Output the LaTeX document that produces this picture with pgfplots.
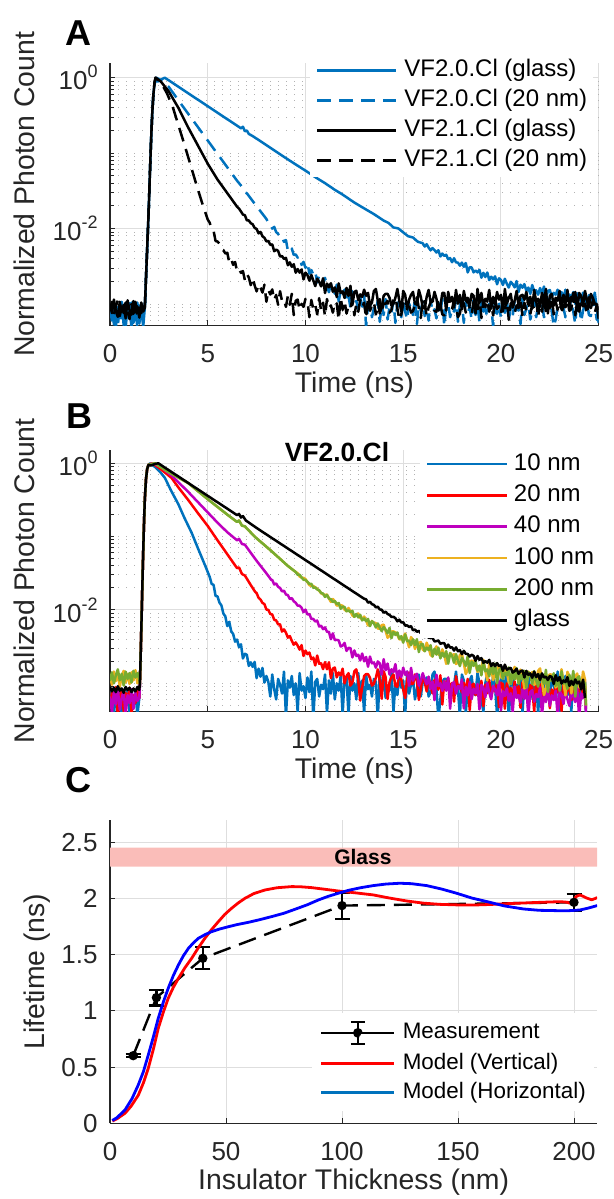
\documentclass[border=0pt]{standalone}
\usepackage{fontspec}
\setmainfont{Liberation Sans}
\usepackage{pgfplots}
\pgfplotsset{compat=1.18}

\definecolor{mblue}{RGB}{0,114,189}
\definecolor{morange}{RGB}{237,177,32}
\definecolor{mgreen}{RGB}{119,172,48}
\definecolor{mmag}{RGB}{190,0,190}
\definecolor{axgray}{RGB}{38,38,38}
\definecolor{gridgray}{RGB}{222,222,222}
\definecolor{minorgray}{RGB}{178,178,178}
\definecolor{glasspink}{RGB}{250,189,185}

\pgfplotsset{
  matstyle/.style={
    scale only axis,
    anchor=south west,
    axis lines*=left,
    axis line style={draw=axgray, line width=0.7pt},
    tick align=inside,
    major tick length=2.6pt,
    minor tick length=2pt,
    tick style={draw=axgray, line width=0.5pt},
    xmajorgrids=true, ymajorgrids=true,
    major grid style={draw=gridgray, line width=0.5pt},
    tick label style={font=\fontsize{13}{13}\selectfont, text=axgray},
    xticklabel style={anchor=center, yshift=-14pt, inner sep=0pt},
    yticklabel style={anchor=east, xshift=-6pt, inner sep=0pt},
    label style={font=\fontsize{14.2}{14.2}\selectfont, text=axgray},
    /pgf/number format/assume math mode=true,
    legend cell align=left,
  },
  logstyle/.style={
    yminorgrids=true,
    minor grid style={draw=minorgray, line width=0.5pt, dash pattern=on 0.6pt off 3.4pt},
    ytick={-2,0},
    yticklabels={10\raisebox{6pt}{\fontsize{9}{9}\selectfont -2},10\raisebox{6pt}{\fontsize{9}{9}\selectfont 0}},
    minor ytick={-3.301,-3.2218,-3.1549,-3.0969,-3.0458,-3,-2.699,-2.5229,-2.3979,-2.301,-2.2218,-2.1549,-2.0969,-2.0458,-1.699,-1.5229,-1.3979,-1.301,-1.2218,-1.1549,-1.0969,-1.0458,-1,-0.699,-0.5229,-0.3979,-0.301,-0.2218,-0.1549,-0.0969,-0.0458},
    xmin=0, xmax=25, xtick={0,5,...,25},
    xlabel={Time (ns)},
    ylabel={Normalized Photon Count},
  },
  curve/.style={line width=1.25pt, line join=round},
}

\begin{document}
\begin{tikzpicture}
\useasboundingbox (0,0) rectangle (307pt,599.5pt);

% ---------------- Panel A ----------------
\begin{axis}[matstyle, logstyle,
  at={(55pt,436.65pt)}, width=244.35pt, height=131.35pt,
  ymin=-3.287, ymax=0.195,
  xlabel style={at={(axis description cs:0.5,-0.2246)}, anchor=center},
  ylabel style={at={(axis description cs:-0.175,0.5)}, anchor=center},
  legend style={at={(0.4092,1.0365)}, anchor=north west, draw=none, fill=white,
    inner sep=3pt, outer sep=0pt, row sep=4pt, column sep=3.5pt,
    font=\fontsize{12}{12}\selectfont,
    nodes={inner sep=0pt, text height=8.6pt, text depth=2.4pt, text=black}},
  legend image code/.code={\draw[#1] (0pt,0pt) -- (39.5pt,0pt);},
]
\addplot[mblue, curve] coordinates {
(0,-3.05) (0.1,-3.22) (0.2,-2.98) (0.3,-3.31) (0.4,-3.04) (0.5,-3.19) (0.6,-2.97) (0.7,-3.28) (0.8,-3.08) (0.9,-3.15) (1,-2.99) (1.1,-3.33) (1.2,-3.03) (1.3,-3.2) (1.4,-2.98) (1.5,-3.26) (1.6,-3.06) (1.7,-3.3) (1.78,-3.05) (1.85,-2.6) (1.92,-2.15) (1.98,-1.75) (2.04,-1.28) (2.1,-0.84) (2.16,-0.48) (2.22,-0.22) (2.28,-0.08) (2.35,-0.04) (2.45,-0.05) (2.55,-0.04) (2.65,-0.02) (2.8,0) (3,-0.034) (3.5,-0.12) (4,-0.206) (4.5,-0.292) (5,-0.378) (5.5,-0.464) (6,-0.55) (6.5,-0.636) (6.7,-0.671) (6.8,-0.65) (6.9,-0.71) (7,-0.7) (7.1,-0.745) (7.3,-0.774) (7.5,-0.808) (8,-0.894) (8.5,-0.98) (9,-1.066) (9.5,-1.15) (10,-1.232) (10.5,-1.318) (11,-1.398) (11.5,-1.486) (11.8,-1.533) (12,-1.567) (12.5,-1.655) (13,-1.732) (13.5,-1.808) (14,-1.894) (14.25,-1.925) (14.5,-1.985) (14.75,-1.998) (15,-2.05) (15.25,-2.101) (15.5,-2.118) (15.75,-2.175)
(16,-2.194) (16.1,-2.238) (16.2,-2.207) (16.3,-2.252) (16.4,-2.287) (16.5,-2.259) (16.6,-2.285) (16.7,-2.317) (16.8,-2.287) (16.9,-2.37) (17,-2.331) (17.1,-2.362) (17.2,-2.347) (17.3,-2.406) (17.4,-2.391) (17.5,-2.446) (17.6,-2.393) (17.7,-2.448) (17.8,-2.451) (17.9,-2.492) (18,-2.45) (18.1,-2.507) (18.2,-2.456) (18.3,-2.581) (18.4,-2.512) (18.5,-2.515) (18.6,-2.58) (18.7,-2.556) (18.8,-2.581) (18.9,-2.548) (19,-2.651) (19.1,-2.586) (19.2,-2.642) (19.3,-2.582) (19.4,-2.682) (19.5,-2.638) (19.6,-2.673) (19.7,-2.633) (19.8,-2.738) (19.9,-2.659) (20,-2.681) (20.1,-2.748) (20.2,-2.665) (20.3,-2.732) (20.4,-2.781) (20.5,-2.705) (20.6,-2.736) (20.7,-2.779) (20.8,-2.696) (20.9,-2.841) (21,-2.744) (21.1,-2.783) (21.2,-2.737) (21.3,-2.827) (21.4,-2.781) (21.5,-2.865) (21.6,-2.748) (21.7,-2.832) (21.8,-2.818) (21.9,-2.876) (22,-2.788) (22.1,-2.862) (22.2,-2.768) (22.3,-2.947) (22.4,-2.825) (22.5,-2.815) (22.6,-2.903) (22.7,-2.851) (22.8,-2.876) (22.9,-2.81) (23,-2.958) (23.1,-2.842) (23.2,-2.918) (23.3,-2.81) (23.4,-2.958) (23.5,-2.874) (23.6,-2.918) (23.7,-2.842) (23.8,-2.998) (23.9,-2.858) (24,-2.885) (24.1,-2.973) (24.2,-2.848) (24.3,-2.936) (24.4,-2.999) (24.5,-2.882) (24.6,-2.919) (24.7,-2.974) (24.8,-2.849) (24.9,-3.05) (25,-3.25)};
\addplot[mblue, curve, dash pattern=on 7pt off 4pt] coordinates {
(0,-3.18) (0.1,-3.02) (0.2,-3.27) (0.3,-3.08) (0.4,-3.3) (0.5,-2.99) (0.6,-3.21) (0.7,-3.06) (0.8,-3.32) (0.9,-3.03) (1,-3.17) (1.1,-2.98) (1.2,-3.25) (1.3,-3.07) (1.4,-3.31) (1.5,-3.02) (1.6,-3.19) (1.7,-3.08) (1.78,-3.1) (1.85,-2.6) (1.92,-2.15) (1.98,-1.75) (2.04,-1.28) (2.1,-0.84) (2.16,-0.48) (2.22,-0.22) (2.28,-0.07) (2.36,0) (2.6,-0.03) (3,-0.12) (3.5,-0.3) (4,-0.478) (4.5,-0.655) (5,-0.833) (5.5,-1.01) (6,-1.188) (6.5,-1.366) (6.8,-1.46) (6.9,-1.52) (7,-1.532) (7.5,-1.704) (8,-1.872)
(8.1,-1.923) (8.2,-1.932) (8.3,-2.001) (8.4,-1.977) (8.5,-2.046) (8.6,-2.069) (8.7,-2.125) (8.8,-2.115) (8.9,-2.176) (9,-2.151) (9.1,-2.294) (9.2,-2.243) (9.3,-2.265) (9.4,-2.349) (9.5,-2.343) (9.6,-2.384) (9.7,-2.367) (9.8,-2.481) (9.9,-2.441) (10,-2.52) (10.1,-2.454) (10.2,-2.597) (10.3,-2.55) (10.4,-2.609) (10.5,-2.569) (10.6,-2.714) (10.7,-2.619) (10.8,-2.661) (10.9,-2.748) (11,-2.652) (11.1,-2.761) (11.2,-2.843) (11.3,-2.735) (11.4,-2.79) (11.5,-2.863) (11.6,-2.743) (11.7,-2.965) (11.8,-2.827) (11.9,-2.887) (12,-2.809) (12.1,-2.977) (12.2,-2.893) (12.3,-3.048) (12.4,-2.832) (12.5,-2.988) (12.6,-2.961) (12.7,-3.065) (12.8,-2.906) (12.9,-3.034) (13,-2.875)
(13.1,-3.295) (13.2,-3.025) (13.3,-2.995) (13.4,-3.175) (13.5,-3.055) (13.6,-3.1) (13.7,-2.95) (13.8,-3.235) (13.9,-3.01) (14,-3.145) (14.1,-2.935) (14.2,-3.205) (14.3,-3.04) (14.4,-3.115) (14.5,-2.965) (14.6,-3.25) (14.7,-2.98) (14.8,-3.025) (14.9,-3.175) (15,-2.95) (15.1,-3.1) (15.2,-3.205) (15.3,-2.995) (15.4,-3.055) (15.5,-3.145) (15.6,-2.92) (15.7,-3.265) (15.8,-3.01) (15.9,-3.085) (16,-2.965) (16.1,-3.16) (16.2,-3.04) (16.3,-3.22) (16.4,-2.935) (16.5,-3.115) (16.6,-3.07) (16.7,-3.19) (16.8,-2.98) (16.9,-3.13) (17,-2.92) (17.1,-3.295) (17.2,-3.025) (17.3,-2.995) (17.4,-3.175) (17.5,-3.055) (17.6,-3.1) (17.7,-2.95) (17.8,-3.235) (17.9,-3.01)
(18,-2.98) (18.1,-3.25) (18.2,-2.965) (18.3,-3.115) (18.4,-3.04) (18.5,-3.205) (18.6,-2.935) (18.7,-3.145) (18.8,-3.01) (18.9,-3.235) (19,-2.95) (19.1,-3.1) (19.2,-3.055) (19.3,-3.175) (19.4,-2.995) (19.5,-3.025) (19.6,-3.295) (19.7,-2.92) (19.8,-3.13) (19.9,-2.98) (20,-3.19) (20.1,-3.07) (20.2,-3.115) (20.3,-2.935) (20.4,-3.22) (20.5,-3.04) (20.6,-3.16) (20.7,-2.965) (20.8,-3.085) (20.9,-3.01) (21,-3.265) (21.1,-2.92) (21.2,-3.145) (21.3,-3.055) (21.4,-2.995) (21.5,-3.205) (21.6,-3.1) (21.7,-2.95) (21.8,-3.175) (21.9,-3.025)
(22,-3.025) (22.1,-2.98) (22.2,-3.175) (22.3,-3.13) (22.4,-2.95) (22.5,-2.92) (22.6,-3.1) (22.7,-3.295) (22.8,-3.205) (22.9,-3.025) (23,-2.995) (23.1,-2.995) (23.2,-3.055) (23.3,-3.175) (23.4,-3.145) (23.5,-3.055) (23.6,-2.92) (23.7,-3.1) (23.8,-3.265) (23.9,-2.95) (24,-3.01) (24.1,-3.235) (24.2,-3.085) (24.3,-3.01) (24.4,-2.965) (24.5,-3.145) (24.6,-3.16) (24.7,-2.935) (24.8,-3.04) (24.9,-3.205) (25,-3.22)};
\addplot[black, curve] coordinates {
(0,-3.02) (0.1,-3.12) (0.2,-2.94) (0.3,-3.09) (0.4,-3.17) (0.5,-2.97) (0.6,-3.1) (0.7,-3.01) (0.8,-3.19) (0.9,-2.95) (1,-3.08) (1.1,-3.14) (1.2,-2.96) (1.3,-3.11) (1.4,-3.03) (1.5,-3.18) (1.6,-2.98) (1.7,-3.1) (1.78,-3.05) (1.85,-2.6) (1.92,-2.15) (1.98,-1.75) (2.04,-1.28) (2.1,-0.84) (2.16,-0.48) (2.22,-0.22) (2.28,-0.06) (2.33,0) (2.6,-0.05) (3,-0.18) (3.5,-0.4) (4,-0.66) (4.5,-0.9) (5,-1.14) (5.5,-1.35) (6,-1.53) (6.5,-1.71)
(6.6,-1.735) (6.7,-1.773) (6.8,-1.814) (6.9,-1.823) (7,-1.89) (7.1,-1.892) (7.2,-1.928) (7.3,-1.944) (7.4,-1.991) (7.5,-2.005) (7.6,-2.063) (7.7,-2.044) (7.8,-2.102) (7.9,-2.122) (8,-2.17) (8.1,-2.163) (8.2,-2.216) (8.3,-2.209) (8.4,-2.3) (8.5,-2.278) (8.6,-2.296) (8.7,-2.37) (8.8,-2.364) (8.9,-2.402) (9,-2.388) (9.1,-2.486) (9.2,-2.448) (9.3,-2.506) (9.4,-2.472) (9.5,-2.584) (9.6,-2.536) (9.7,-2.584) (9.8,-2.542) (9.9,-2.674) (10,-2.584) (10.1,-2.616) (10.2,-2.69) (10.3,-2.614) (10.4,-2.688) (10.5,-2.762) (10.6,-2.662) (10.7,-2.706) (10.8,-2.766) (10.9,-2.658) (11,-2.854) (11.1,-2.728) (11.2,-2.778) (11.3,-2.724) (11.4,-2.838) (11.5,-2.78) (11.6,-2.908) (11.7,-2.726) (11.8,-2.854) (11.9,-2.832) (12,-2.92) (12.1,-2.786) (12.2,-2.892) (12.3,-2.758) (12.4,-3.014) (12.5,-2.84) (12.6,-2.824) (12.7,-2.948) (12.8,-2.872) (12.9,-2.906) (13,-2.81)
(13.1,-2.891) (13.2,-2.852) (13.3,-3.021) (13.4,-2.982) (13.5,-2.826) (13.6,-2.8) (13.7,-2.956) (13.8,-3.125) (13.9,-3.047) (14,-2.891) (14.1,-2.865) (14.2,-2.865) (14.3,-2.917) (14.4,-3.021) (14.5,-2.995) (14.6,-2.917) (14.7,-2.8) (14.8,-2.956) (14.9,-3.099) (15,-2.826) (15.1,-2.878) (15.2,-3.073) (15.3,-2.943) (15.4,-2.878) (15.5,-2.839) (15.6,-2.995) (15.7,-3.008) (15.8,-2.813) (15.9,-2.904) (16,-3.047) (16.1,-3.06) (16.2,-2.904) (16.3,-2.813) (16.4,-2.969) (16.5,-2.969) (16.6,-2.839) (16.7,-2.93) (16.8,-3.086) (16.9,-3.034) (17,-2.852) (17.1,-2.852) (17.2,-3.086) (17.3,-2.839) (17.4,-2.969) (17.5,-2.904) (17.6,-3.047) (17.7,-2.813) (17.8,-2.995) (17.9,-2.878) (18,-3.073) (18.1,-2.826) (18.2,-2.956) (18.3,-2.917) (18.4,-3.021) (18.5,-2.865) (18.6,-2.891) (18.7,-3.125) (18.8,-2.8) (18.9,-2.982) (19,-2.852) (19.1,-3.034) (19.2,-2.93) (19.3,-2.969) (19.4,-2.813) (19.5,-3.06) (19.6,-2.904) (19.7,-3.008) (19.8,-2.839) (19.9,-2.943) (20,-2.878) (20.1,-3.099) (20.2,-2.8) (20.3,-2.995) (20.4,-2.917) (20.5,-2.865) (20.6,-3.047) (20.7,-2.956) (20.8,-2.826) (20.9,-3.021) (21,-2.891) (21.1,-2.878) (21.2,-2.943) (21.3,-2.839) (21.4,-3.008) (21.5,-2.904) (21.6,-3.06) (21.7,-2.813) (21.8,-2.969) (21.9,-2.93) (22,-3.034) (22.1,-2.852) (22.2,-2.982) (22.3,-2.8) (22.4,-3.125) (22.5,-2.891) (22.6,-2.865) (22.7,-3.021) (22.8,-2.917) (22.9,-2.956) (23,-2.826) (23.1,-3.073) (23.2,-2.878) (23.3,-2.995) (23.4,-2.813) (23.5,-3.047) (23.6,-2.904) (23.7,-2.969) (23.8,-2.839) (23.9,-3.086) (24,-2.852) (24.1,-2.891) (24.2,-3.021) (24.3,-2.826) (24.4,-2.956) (24.5,-3.047) (24.6,-2.865) (24.7,-2.917) (24.8,-2.995) (24.9,-3) (25,-3.2)};
\addplot[black, curve, dash pattern=on 7pt off 4pt] coordinates {
(0,-3.08) (0.1,-2.97) (0.2,-3.14) (0.3,-3.03) (0.4,-2.95) (0.5,-3.16) (0.6,-3.04) (0.7,-3.12) (0.8,-2.98) (0.9,-3.1) (1,-3.2) (1.1,-3) (1.2,-3.13) (1.3,-2.97) (1.4,-3.15) (1.5,-3.05) (1.6,-3.12) (1.7,-2.99) (1.78,-3.05) (1.85,-2.6) (1.92,-2.15) (1.98,-1.75) (2.04,-1.28) (2.1,-0.84) (2.16,-0.48) (2.22,-0.22) (2.28,-0.06) (2.33,0) (2.6,-0.06) (2.9,-0.2) (3.2,-0.38) (3.5,-0.63) (3.8,-0.88) (4.1,-1.14) (4.4,-1.4) (4.7,-1.65) (5,-1.88)
(5.1,-1.922) (5.2,-2.012) (5.3,-2.03) (5.4,-2.165) (5.5,-2.171) (5.6,-2.201) (5.7,-2.273) (5.8,-2.285) (5.9,-2.33) (6,-2.32) (6.1,-2.447) (6.2,-2.404) (6.3,-2.481) (6.4,-2.443) (6.5,-2.565) (6.6,-2.536) (6.7,-2.587) (6.8,-2.563) (6.9,-2.684) (7,-2.602) (7.1,-2.648) (7.2,-2.75) (7.3,-2.652) (7.4,-2.754) (7.5,-2.832) (7.6,-2.736) (7.7,-2.784) (7.8,-2.848) (7.9,-2.744) (8,-2.97) (8.1,-2.812) (8.2,-2.874) (8.3,-2.806) (8.4,-2.948) (8.5,-2.88) (8.6,-3.01) (8.7,-2.83) (8.8,-2.96) (8.9,-2.94) (9,-3.038) (9.1,-2.892) (9.2,-3.01) (9.3,-2.864) (9.4,-3.147) (9.5,-2.957) (9.6,-2.941) (9.7,-3.079) (9.8,-2.997) (9.9,-3.036) (10,-2.932)
(10.1,-2.958) (10.2,-3.174) (10.3,-2.946) (10.4,-3.066) (10.5,-3.006) (10.6,-3.138) (10.7,-2.922) (10.8,-3.09) (10.9,-2.982) (11,-3.162) (11.1,-2.934) (11.2,-3.054) (11.3,-3.018) (11.4,-3.114) (11.5,-2.97) (11.6,-2.994) (11.7,-3.21) (11.8,-2.91) (11.9,-3.078) (12,-2.958) (12.1,-3.126) (12.2,-3.03) (12.3,-3.066) (12.4,-2.922) (12.5,-3.15) (12.6,-3.006) (12.7,-3.102) (12.8,-2.946) (12.9,-3.042) (13,-2.982) (13.1,-3.186) (13.2,-2.91) (13.3,-3.09) (13.4,-3.018) (13.5,-2.97) (13.6,-3.138) (13.7,-3.054) (13.8,-2.934) (13.9,-3.114) (14,-2.994)
(14.1,-2.994) (14.2,-2.958) (14.3,-3.114) (14.4,-3.078) (14.5,-2.934) (14.6,-2.91) (14.7,-3.054) (14.8,-3.21) (14.9,-3.138) (15,-2.994) (15.1,-2.97) (15.2,-2.97) (15.3,-3.018) (15.4,-3.114) (15.5,-3.09) (15.6,-3.018) (15.7,-2.91) (15.8,-3.054) (15.9,-3.186) (16,-2.934) (16.1,-2.982) (16.2,-3.162) (16.3,-3.042) (16.4,-2.982) (16.5,-2.946) (16.6,-3.09) (16.7,-3.102) (16.8,-2.922) (16.9,-3.006) (17,-3.138) (17.1,-3.15) (17.2,-3.006) (17.3,-2.922) (17.4,-3.066) (17.5,-3.066) (17.6,-2.946) (17.7,-3.03) (17.8,-3.174) (17.9,-3.126) (18,-2.958)
(18.1,-2.994) (18.2,-3.114) (18.3,-2.934) (18.4,-3.054) (18.5,-3.138) (18.6,-2.97) (18.7,-3.018) (18.8,-3.09) (18.9,-2.91) (19,-3.186) (19.1,-2.982) (19.2,-3.042) (19.3,-2.946) (19.4,-3.102) (19.5,-3.006) (19.6,-3.15) (19.7,-2.922) (19.8,-3.066) (19.9,-3.03) (20,-3.126) (20.1,-2.958) (20.2,-3.078) (20.3,-2.91) (20.4,-3.21) (20.5,-2.994) (20.6,-2.97) (20.7,-3.114) (20.8,-3.018) (20.9,-3.054) (21,-2.934) (21.1,-3.162) (21.2,-2.982) (21.3,-3.09) (21.4,-2.922) (21.5,-3.138) (21.6,-3.006) (21.7,-3.066) (21.8,-2.946) (21.9,-3.174) (22,-2.958)
(22.1,-3.102) (22.2,-2.886) (22.3,-3.114) (22.4,-2.994) (22.5,-3.054) (22.6,-2.922) (22.7,-3.138) (22.8,-2.97) (22.9,-3.078) (23,-2.898) (23.1,-3.126) (23.2,-3.006) (23.3,-3.042) (23.4,-2.946) (23.5,-3.09) (23.6,-3.066) (23.7,-2.85) (23.8,-3.15) (23.9,-2.982) (24,-3.102) (24.1,-2.934) (24.2,-3.03) (24.3,-2.994) (24.4,-3.138) (24.5,-2.91) (24.6,-3.054) (24.7,-2.958) (24.8,-3.114) (24.9,-3.018) (25,-3.078)};
\legend{VF2.0.Cl (glass), VF2.0.Cl (20 nm), VF2.1.Cl (glass), VF2.1.Cl (20 nm)}
\end{axis}

% ---------------- Panel B ----------------
\begin{axis}[matstyle, logstyle,
  at={(55pt,243.65pt)}, width=244.35pt, height=130.85pt,
  ymin=-3.387, ymax=0.181,
  xlabel style={at={(axis description cs:0.5,-0.2254)}, anchor=center},
  ylabel style={at={(axis description cs:-0.175,0.5)}, anchor=center},
  legend style={at={(0.6343,1.0111)}, anchor=north west, draw=none, fill=white,
    inner sep=3pt, outer sep=0pt, row sep=4.65pt, column sep=2.75pt,
    font=\fontsize{12}{12}\selectfont,
    nodes={inner sep=0pt, text height=8.6pt, text depth=2.4pt, text=black}},
  legend image code/.code={\draw[#1] (0pt,0pt) -- (40pt,0pt);},
]
\addplot[mblue, curve] coordinates {
(0,-3.25) (0.1,-3.1) (0.2,-3.42) (0.3,-3.15) (0.4,-3.3) (0.5,-3.06) (0.6,-3.45) (0.7,-3.18) (0.8,-3.28) (0.9,-3.08) (1,-3.4) (1.1,-3.14) (1.2,-3.33) (1.3,-3.09) (1.4,-3.44) (1.5,-3.2) (1.53,-3) (1.58,-2.5) (1.63,-1.95) (1.68,-1.4) (1.73,-0.9) (1.78,-0.5) (1.84,-0.22) (1.9,-0.08) (1.97,-0.02) (2.05,0) (2.3,-0.05) (2.6,-0.13) (2.81,-0.2) (3.1,-0.36) (3.5,-0.56) (3.8,-0.74) (4.18,-0.95) (4.5,-1.16) (4.86,-1.39) (5.1,-1.55)
(5.2,-1.644) (5.3,-1.659) (5.4,-1.808) (5.5,-1.816) (5.6,-1.9) (5.7,-1.938) (5.8,-2.049) (5.9,-2.087) (6,-2.22) (6.1,-2.162) (6.2,-2.29) (6.3,-2.328) (6.4,-2.432) (6.5,-2.404) (6.6,-2.508) (6.7,-2.468) (6.8,-2.662) (6.9,-2.598) (7,-2.61) (7.1,-2.762) (7.2,-2.714) (7.3,-2.776) (7.4,-2.708) (7.5,-2.93) (7.6,-2.8) (7.7,-2.91) (7.8,-2.79) (7.9,-2.99) (8,-2.9)
(8.1,-2.98) (8.2,-3.18) (8.3,-2.88) (8.4,-3.08) (8.5,-3.22) (8.6,-2.94) (8.7,-3.02) (8.8,-3.14) (8.9,-2.84) (9,-3.45) (9.1,-2.96) (9.2,-3.06) (9.3,-2.9) (9.4,-3.16) (9.5,-3) (9.6,-3.39) (9.7,-2.86) (9.8,-3.1) (9.9,-3.04) (10,-3.2) (10.1,-2.92) (10.2,-3.12) (10.3,-2.84) (10.4,-3.49) (10.5,-2.98) (10.6,-2.94) (10.7,-3.18) (10.8,-3.02) (10.9,-3.08) (11,-2.88) (11.1,-3.41) (11.2,-2.96) (11.3,-3.14) (11.4,-2.86) (11.5,-3.22) (11.6,-3) (11.7,-3.1) (11.8,-2.9) (11.9,-3.43) (12,-2.92)
(12.1,-2.92) (12.2,-3.43) (12.3,-2.9) (12.4,-3.1) (12.5,-3) (12.6,-3.22) (12.7,-2.86) (12.8,-3.14) (12.9,-2.96) (13,-3.41) (13.1,-2.88) (13.2,-3.08) (13.3,-3.02) (13.4,-3.18) (13.5,-2.94) (13.6,-2.98) (13.7,-3.49) (13.8,-2.84) (13.9,-3.12) (14,-2.92) (14.1,-3.2) (14.2,-3.04) (14.3,-3.1) (14.4,-2.86) (14.5,-3.39) (14.6,-3) (14.7,-3.16) (14.8,-2.9) (14.9,-3.06) (15,-2.96) (15.1,-3.45) (15.2,-2.84) (15.3,-3.14) (15.4,-3.02) (15.5,-2.94) (15.6,-3.22) (15.7,-3.08) (15.8,-2.88) (15.9,-3.18) (16,-2.98)
(16.1,-2.98) (16.2,-2.92) (16.3,-3.18) (16.4,-3.12) (16.5,-2.88) (16.6,-2.84) (16.7,-3.08) (16.8,-3.49) (16.9,-3.22) (17,-2.98) (17.1,-2.94) (17.2,-2.94) (17.3,-3.02) (17.4,-3.18) (17.5,-3.14) (17.6,-3.02) (17.7,-2.84) (17.8,-3.08) (17.9,-3.45) (18,-2.88) (18.1,-2.96) (18.2,-3.41) (18.3,-3.06) (18.4,-2.96) (18.5,-2.9) (18.6,-3.14) (18.7,-3.16) (18.8,-2.86) (18.9,-3) (19,-3.22) (19.1,-3.39) (19.2,-3) (19.3,-2.86) (19.4,-3.1) (19.5,-3.1) (19.6,-2.9) (19.7,-3.04) (19.8,-3.43) (19.9,-3.2) (20,-2.92)
(20.1,-2.92) (20.2,-3.12) (20.3,-2.84) (20.4,-3.49) (20.5,-2.98) (20.6,-2.94) (20.7,-3.18) (20.8,-3.02) (20.9,-3.08) (21,-2.88) (21.1,-3.41) (21.2,-2.96) (21.3,-3.14) (21.4,-2.86) (21.5,-3.22) (21.6,-3) (21.7,-3.1) (21.8,-2.9) (21.9,-3.43) (22,-2.92) (22.1,-2.98) (22.2,-3.18) (22.3,-2.88) (22.4,-3.08) (22.5,-3.22) (22.6,-2.94) (22.7,-3.02) (22.8,-3.14) (22.9,-2.84) (23,-3.45) (23.1,-2.96) (23.2,-3.06) (23.3,-2.9) (23.4,-3.16) (23.5,-3) (23.6,-3.39) (23.7,-2.86) (23.8,-3.1) (23.9,-3.04) (24,-3.2) (24.1,-2.96) (24.2,-3.15) (24.3,-2.98) (24.35,-3.4)};
\addplot[red, curve] coordinates {
(0,-3.35) (0.1,-3.12) (0.2,-3.26) (0.3,-3.05) (0.4,-3.44) (0.5,-3.17) (0.6,-3.09) (0.7,-3.38) (0.8,-3.13) (0.9,-3.24) (1,-3.06) (1.1,-3.41) (1.2,-3.16) (1.3,-3.27) (1.4,-3.1) (1.5,-3.2) (1.53,-3) (1.58,-2.5) (1.63,-1.95) (1.68,-1.4) (1.73,-0.9) (1.78,-0.5) (1.84,-0.22) (1.9,-0.08) (1.97,-0.02) (2.15,0) (2.5,-0.06) (3.15,-0.2) (3.5,-0.33) (4,-0.5) (4.5,-0.68) (5,-0.855) (5.5,-1.05) (6,-1.24) (6.5,-1.43) (6.6,-1.42) (6.75,-1.51) (6.9,-1.53) (7.2,-1.66) (7.42,-1.75)
(7.5,-1.77) (7.6,-1.834) (7.7,-1.858) (7.8,-1.904) (7.9,-1.92) (8,-1.994) (8.1,-2) (8.2,-2.054) (8.3,-2.062) (8.4,-2.133) (8.5,-2.143) (8.6,-2.196) (8.7,-2.196) (8.8,-2.295) (8.9,-2.265) (9,-2.309) (9.1,-2.377) (9.2,-2.356) (9.3,-2.42) (9.4,-2.474) (9.5,-2.443) (9.6,-2.486) (9.7,-2.541) (9.8,-2.479) (9.9,-2.627) (10,-2.554) (10.1,-2.603) (10.2,-2.58) (10.3,-2.672) (10.4,-2.649) (10.5,-2.756) (10.6,-2.621) (10.7,-2.733) (10.8,-2.725) (10.9,-2.806) (11,-2.711) (11.1,-2.808) (11.2,-2.713) (11.3,-2.93) (11.4,-2.799) (11.5,-2.786) (11.6,-2.919) (11.7,-2.852) (11.8,-2.892) (11.9,-2.801) (12,-3.001)
(12.1,-2.901) (12.2,-2.862) (12.3,-3.031) (12.4,-2.992) (12.5,-2.836) (12.6,-2.81) (12.7,-2.966) (12.8,-3.235) (12.9,-3.057) (13,-2.901) (13.1,-2.875) (13.2,-2.875) (13.3,-2.927) (13.4,-3.031) (13.5,-3.005) (13.6,-2.927) (13.7,-2.81) (13.8,-2.966) (13.9,-3.209) (14,-2.836) (14.1,-2.918) (14.2,-3.213) (14.3,-2.983) (14.4,-2.918) (14.5,-2.879) (14.6,-3.035) (14.7,-3.048) (14.8,-2.853) (14.9,-2.944) (15,-3.087) (15.1,-3.2) (15.2,-2.944) (15.3,-2.853) (15.4,-3.009) (15.5,-3.009) (15.6,-2.879) (15.7,-2.97) (15.8,-3.226) (15.9,-3.074) (16,-2.892)
(16.1,-2.981) (16.2,-3.111) (16.3,-2.916) (16.4,-3.046) (16.5,-3.137) (16.6,-2.955) (16.7,-3.007) (16.8,-3.085) (16.9,-2.89) (17,-3.289) (17.1,-2.968) (17.2,-3.033) (17.3,-2.929) (17.4,-3.098) (17.5,-2.994) (17.6,-3.25) (17.7,-2.903) (17.8,-3.059) (17.9,-3.02) (18,-3.124) (18.1,-2.992) (18.2,-3.122) (18.3,-2.94) (18.4,-3.365) (18.5,-3.031) (18.6,-3.005) (18.7,-3.161) (18.8,-3.057) (18.9,-3.096) (19,-2.966) (19.1,-3.313) (19.2,-3.018) (19.3,-3.135) (19.4,-2.953) (19.5,-3.187) (19.6,-3.044) (19.7,-3.109) (19.8,-2.979) (19.9,-3.326) (20,-2.992)
(20.1,-3.012) (20.2,-3.346) (20.3,-2.999) (20.4,-3.129) (20.5,-3.064) (20.6,-3.207) (20.7,-2.973) (20.8,-3.155) (20.9,-3.038) (21,-3.333) (21.1,-2.986) (21.2,-3.116) (21.3,-3.077) (21.4,-3.181) (21.5,-3.025) (21.6,-3.051) (21.7,-3.385) (21.8,-2.96) (21.9,-3.142) (22,-3.012) (22.1,-3.214) (22.2,-3.11) (22.3,-3.149) (22.4,-2.993) (22.5,-3.34) (22.6,-3.084) (22.7,-3.188) (22.8,-3.019) (22.9,-3.123) (23,-3.058) (23.1,-3.379) (23.2,-2.98) (23.3,-3.175) (23.4,-3.097) (23.5,-3.045) (23.6,-3.227) (23.7,-3.136) (23.8,-3.006) (23.9,-3.201) (24,-3.071) (24.1,-3) (24.2,-3.2) (24.3,-3.05) (24.35,-3.35)};
\addplot[mmag, curve] coordinates {
(0,-3.18) (0.1,-3.4) (0.2,-3.11) (0.3,-3.29) (0.4,-3.07) (0.5,-3.36) (0.6,-3.2) (0.7,-3.1) (0.8,-3.43) (0.9,-3.16) (1,-3.27) (1.1,-3.08) (1.2,-3.35) (1.3,-3.13) (1.4,-3.24) (1.5,-3.2) (1.53,-3) (1.58,-2.5) (1.63,-1.95) (1.68,-1.4) (1.73,-0.9) (1.78,-0.5) (1.84,-0.22) (1.9,-0.08) (1.97,-0.02) (2.2,0) (2.6,-0.05) (3.2,-0.18) (4,-0.39) (4.5,-0.53) (5,-0.67) (5.5,-0.81) (6,-0.94) (6.5,-1.05) (6.6,-1.03) (6.75,-1.1) (6.9,-1.11) (7.5,-1.33) (8,-1.5) (8.25,-1.59)
(8.3,-1.591) (8.4,-1.652) (8.5,-1.639) (8.6,-1.685) (8.7,-1.7) (8.8,-1.747) (8.9,-1.737) (9,-1.79) (9.1,-1.797) (9.2,-1.851) (9.3,-1.838) (9.4,-1.882) (9.5,-1.901) (9.6,-1.941) (9.7,-1.942) (9.8,-1.97) (9.9,-2.03) (10,-1.995) (10.1,-2.062) (10.2,-2.056) (10.3,-2.123) (10.4,-2.123) (10.5,-2.157) (10.6,-2.145) (10.7,-2.226) (10.8,-2.214) (10.9,-2.262) (11,-2.237) (11.1,-2.297) (11.2,-2.298) (11.3,-2.399) (11.4,-2.319) (11.5,-2.411) (11.6,-2.408) (11.7,-2.414) (11.8,-2.499) (11.9,-2.486) (12,-2.449) (12.1,-2.558) (12.2,-2.518)
(12.3,-2.519) (12.4,-2.647) (12.5,-2.552) (12.6,-2.627) (12.7,-2.61) (12.8,-2.689) (12.9,-2.594) (13,-2.7) (13.1,-2.641) (13.2,-2.774) (13.3,-2.635) (13.4,-2.728) (13.5,-2.715) (13.6,-2.788) (13.7,-2.702) (13.8,-2.728) (13.9,-2.881) (14,-2.671) (14.1,-2.821) (14.2,-2.73) (14.3,-2.88) (14.4,-2.809) (14.5,-2.848) (14.6,-2.738) (14.7,-2.937) (14.8,-2.826) (14.9,-2.915) (15,-2.787) (15.1,-2.885) (15.2,-2.839) (15.3,-3.034) (15.4,-2.789) (15.5,-2.963) (15.6,-2.905) (15.7,-2.87) (15.8,-3.032) (15.9,-2.963) (16,-2.862)
(16.1,-2.948) (16.2,-3.013) (16.3,-2.909) (16.4,-3.078) (16.5,-2.974) (16.6,-3.23) (16.7,-2.883) (16.8,-3.039) (16.9,-3) (17,-3.104) (17.1,-2.972) (17.2,-3.102) (17.3,-2.92) (17.4,-3.345) (17.5,-3.011) (17.6,-2.985) (17.7,-3.141) (17.8,-3.037) (17.9,-3.076) (18,-2.946) (18.1,-3.343) (18.2,-3.048) (18.3,-3.165) (18.4,-2.983) (18.5,-3.217) (18.6,-3.074) (18.7,-3.139) (18.8,-3.009) (18.9,-3.356) (19,-3.022) (19.1,-3.061) (19.2,-3.191) (19.3,-2.996) (19.4,-3.126) (19.5,-3.217) (19.6,-3.035) (19.7,-3.087) (19.8,-3.165) (19.9,-2.97) (20,-3.369)
(20.1,-3.108) (20.2,-3.173) (20.3,-3.069) (20.4,-3.238) (20.5,-3.134) (20.6,-3.39) (20.7,-3.043) (20.8,-3.199) (20.9,-3.16) (21,-3.264) (21.1,-3.082) (21.2,-3.212) (21.3,-3.03) (21.4,-3.455) (21.5,-3.121) (21.6,-3.095) (21.7,-3.251) (21.8,-3.147) (21.9,-3.186) (22,-3.056) (22.1,-3.433) (22.2,-3.138) (22.3,-3.255) (22.4,-3.073) (22.5,-3.307) (22.6,-3.164) (22.7,-3.229) (22.8,-3.099) (22.9,-3.446) (23,-3.112) (23.1,-3.151) (23.2,-3.281) (23.3,-3.086) (23.4,-3.216) (23.5,-3.307) (23.6,-3.125) (23.7,-3.177) (23.8,-3.255) (23.9,-3.06) (24,-3.459) (24.1,-3.138) (24.2,-3.203) (24.3,-3.099) (24.35,-3.45)};
\addplot[morange, curve] coordinates {
(0,-2.88) (0.1,-3.02) (0.2,-2.84) (0.3,-2.97) (0.4,-2.86) (0.5,-3.05) (0.6,-2.9) (0.7,-2.83) (0.8,-2.99) (0.9,-2.87) (1,-3.01) (1.1,-2.85) (1.2,-2.96) (1.3,-2.82) (1.4,-3) (1.5,-2.95) (1.53,-3) (1.58,-2.5) (1.63,-1.95) (1.68,-1.4) (1.73,-0.9) (1.78,-0.5) (1.84,-0.22) (1.9,-0.08) (1.97,-0.02) (2.3,0) (3,-0.12) (4,-0.27) (5,-0.49) (6,-0.7) (6.5,-0.8) (6.6,-0.78) (6.75,-0.85) (6.9,-0.86) (7.4,-1) (8.27,-1.2) (9.1,-1.4)
(9.5,-1.482) (9.6,-1.499) (9.7,-1.543) (9.8,-1.56) (9.9,-1.562) (10,-1.58) (10.1,-1.62) (10.2,-1.662) (10.3,-1.673) (10.4,-1.673) (10.5,-1.691) (10.6,-1.711) (10.7,-1.738) (10.8,-1.772) (10.9,-1.787) (11,-1.795) (11.1,-1.79) (11.2,-1.842) (11.3,-1.89) (11.4,-1.851) (11.5,-1.881) (11.6,-1.941) (11.7,-1.933) (11.8,-1.935) (11.9,-1.942) (12,-1.996) (12.1,-2.016) (12.2,-1.973) (12.3,-2.016) (12.4,-2.075) (12.5,-2.094) (12.6,-2.062) (12.7,-2.048) (12.8,-2.109) (12.9,-2.123) (13,-2.09) (13.1,-2.139) (13.2,-2.212) (13.3,-2.206) (13.4,-2.15)
(13.5,-2.179) (13.6,-2.177) (13.7,-2.255) (13.8,-2.254) (13.9,-2.207) (14,-2.2) (14.1,-2.286) (14.2,-2.378) (14.3,-2.355) (14.4,-2.294) (14.5,-2.293) (14.6,-2.305) (14.7,-2.34) (14.8,-2.4) (14.9,-2.399) (15,-2.374) (15.1,-2.321) (15.2,-2.418) (15.3,-2.509) (15.4,-2.371) (15.5,-2.411) (15.6,-2.531) (15.7,-2.471) (15.8,-2.447) (15.9,-2.438) (16,-2.541) (16.1,-2.56) (16.2,-2.446) (16.3,-2.515) (16.4,-2.615) (16.5,-2.634) (16.6,-2.545) (16.7,-2.497) (16.8,-2.607) (16.9,-2.617) (17,-2.537) (17.1,-2.612) (17.2,-2.733) (17.3,-2.706) (17.4,-2.585)
(17.5,-2.623) (17.6,-2.604) (17.7,-2.736) (17.8,-2.716) (17.9,-2.613) (18,-2.593) (18.1,-2.727) (18.2,-2.872) (18.3,-2.819) (18.4,-2.703) (18.5,-2.691) (18.6,-2.7) (18.7,-2.75) (18.8,-2.842) (18.9,-2.829) (19,-2.774) (19.1,-2.679) (19.2,-2.826) (19.3,-2.961) (19.4,-2.728) (19.5,-2.78) (19.6,-2.958) (19.7,-2.849) (19.8,-2.796) (19.9,-2.767) (20,-2.917) (20.1,-2.935) (20.2,-2.751) (20.3,-2.845) (20.4,-2.989) (20.5,-3.007) (20.6,-2.86) (20.7,-2.776) (20.8,-2.933) (20.9,-2.938) (21,-2.813) (21.1,-2.91) (21.2,-3.071) (21.3,-3.023) (21.4,-2.841)
(21.5,-2.884) (21.6,-2.848) (21.7,-3.022) (21.8,-2.987) (21.9,-2.831) (22,-2.797) (22.1,-2.971) (22.2,-3.159) (22.3,-3.075) (22.4,-2.905) (22.5,-2.879) (22.6,-2.881) (22.7,-2.94) (22.8,-3.056) (22.9,-3.03) (23,-2.945) (23.1,-2.808) (23.2,-2.994) (23.3,-3.165) (23.4,-2.843) (23.5,-2.906) (23.6,-3.138) (23.7,-2.986) (23.8,-2.91) (23.9,-2.866) (24,-3.052) (24.1,-3.069) (24.2,-2.839) (24.3,-2.949) (24.35,-3.3)};
\addplot[mgreen, curve] coordinates {
(0,-2.97) (0.1,-2.85) (0.2,-3) (0.3,-2.89) (0.4,-2.81) (0.5,-2.96) (0.6,-2.87) (0.7,-3.03) (0.8,-2.84) (0.9,-2.94) (1,-2.86) (1.1,-2.99) (1.2,-2.83) (1.3,-2.92) (1.4,-2.86) (1.5,-2.95) (1.53,-3) (1.58,-2.5) (1.63,-1.95) (1.68,-1.4) (1.73,-0.9) (1.78,-0.5) (1.84,-0.22) (1.9,-0.08) (1.97,-0.02) (2.3,0) (3,-0.12) (4,-0.27) (5,-0.49) (6,-0.7) (6.5,-0.8) (6.6,-0.78) (6.75,-0.85) (6.9,-0.86) (7.4,-1) (8.27,-1.2) (9.1,-1.4)
(9.5,-1.483) (9.6,-1.52) (9.7,-1.519) (9.8,-1.556) (9.9,-1.589) (10,-1.589) (10.1,-1.616) (10.2,-1.645) (10.3,-1.643) (10.4,-1.698) (10.5,-1.693) (10.6,-1.721) (10.7,-1.73) (10.8,-1.769) (10.9,-1.776) (11,-1.823) (11.1,-1.795) (11.2,-1.844) (11.3,-1.854) (11.4,-1.893) (11.5,-1.877) (11.6,-1.921) (11.7,-1.905) (11.8,-1.984) (11.9,-1.954) (12,-1.96) (12.1,-2.018) (12.2,-2.005) (12.3,-2.031) (12.4,-2.012) (12.5,-2.094) (12.6,-2.056) (12.7,-2.101) (12.8,-2.066) (12.9,-2.143) (13,-2.116) (13.1,-2.153) (13.2,-2.122) (13.3,-2.22) (13.4,-2.153)
(13.5,-2.181) (13.6,-2.239) (13.7,-2.184) (13.8,-2.243) (13.9,-2.288) (14,-2.233) (14.1,-2.269) (14.2,-2.315) (14.3,-2.245) (14.4,-2.384) (14.5,-2.301) (14.6,-2.341) (14.7,-2.308) (14.8,-2.391) (14.9,-2.358) (15,-2.446) (15.1,-2.334) (15.2,-2.424) (15.3,-2.416) (15.4,-2.48) (15.5,-2.401) (15.6,-2.478) (15.7,-2.399) (15.8,-2.574) (15.9,-2.469) (16,-2.463) (16.1,-2.563) (16.2,-2.513) (16.3,-2.546) (16.4,-2.481) (16.5,-2.634) (16.6,-2.531) (16.7,-2.609) (16.8,-2.515) (16.9,-2.66) (17,-2.585) (17.1,-2.638) (17.2,-2.562) (17.3,-2.733) (17.4,-2.59)
(17.5,-2.626) (17.6,-2.72) (17.7,-2.602) (17.8,-2.696) (17.9,-2.765) (18,-2.65) (18.1,-2.697) (18.2,-2.763) (18.3,-2.63) (18.4,-2.858) (18.5,-2.705) (18.6,-2.762) (18.7,-2.694) (18.8,-2.826) (18.9,-2.758) (19,-2.891) (19.1,-2.7) (19.2,-2.835) (19.3,-2.811) (19.4,-2.904) (19.5,-2.763) (19.6,-2.873) (19.7,-2.732) (19.8,-3) (19.9,-2.817) (20,-2.797) (20.1,-2.94) (20.2,-2.854) (20.3,-2.893) (20.4,-2.783) (20.5,-3.007) (20.6,-2.839) (20.7,-2.948) (20.8,-2.792) (20.9,-3.004) (21,-2.881) (21.1,-2.946) (21.2,-2.829) (21.3,-3.061) (21.4,-2.848)
(21.5,-2.888) (21.6,-3.011) (21.7,-2.834) (21.8,-2.958) (21.9,-3.045) (22,-2.875) (22.1,-2.929) (22.2,-3.009) (22.3,-2.816) (22.4,-3.117) (22.5,-2.898) (22.6,-2.965) (22.7,-2.863) (22.8,-3.034) (22.9,-2.932) (23,-3.1) (23.1,-2.836) (23.2,-3.005) (23.3,-2.965) (23.4,-3.078) (23.5,-2.884) (23.6,-3.025) (23.7,-2.831) (23.8,-3.182) (23.9,-2.932) (24,-2.905) (24.1,-3.075) (24.2,-2.964) (24.3,-3.008) (24.35,-3.3)};
\addplot[black, curve] coordinates {
(0,-3.05) (0.1,-3.11) (0.2,-3.06) (0.3,-3.12) (0.4,-3.04) (0.5,-3.1) (0.6,-3.07) (0.7,-3.13) (0.8,-3.05) (0.9,-3.09) (1,-3.06) (1.1,-3.12) (1.2,-3.07) (1.3,-3.11) (1.4,-3.05) (1.5,-3.09) (1.53,-3) (1.58,-2.5) (1.63,-1.95) (1.68,-1.4) (1.73,-0.9) (1.78,-0.5) (1.84,-0.22) (1.9,-0.08) (1.97,-0.02) (2.1,-0.03) (2.3,-0.01) (2.47,0) (3,-0.093) (4,-0.268) (5,-0.444) (6,-0.619) (6.5,-0.707) (6.6,-0.69) (6.7,-0.74) (6.8,-0.72) (6.95,-0.78) (7.5,-0.882) (8,-0.97) (9,-1.145) (10,-1.32) (11,-1.496) (12,-1.672) (13,-1.847)
(13.1,-1.855) (13.2,-1.9) (13.3,-1.889) (13.4,-1.921) (13.5,-1.931) (13.6,-1.965) (13.7,-1.955) (13.8,-1.993) (13.9,-1.997) (14,-2.037) (14.1,-2.024) (14.2,-2.055) (14.3,-2.067) (14.4,-2.095) (14.5,-2.093) (14.6,-2.112) (14.7,-2.155) (14.8,-2.133) (14.9,-2.17) (15,-2.167) (15.1,-2.213) (15.2,-2.21) (15.3,-2.232) (15.4,-2.22) (15.5,-2.277) (15.6,-2.266) (15.7,-2.298) (15.8,-2.285) (15.9,-2.317) (16,-2.321) (16.1,-2.372) (16.2,-2.334) (16.3,-2.38) (16.4,-2.38) (16.5,-2.384) (16.6,-2.428) (16.7,-2.425) (16.8,-2.416) (16.9,-2.462) (17,-2.451)
(17.1,-2.453) (17.2,-2.518) (17.3,-2.472) (17.4,-2.513) (17.5,-2.509) (17.6,-2.553) (17.7,-2.51) (17.8,-2.563) (17.9,-2.547) (18,-2.603) (18.1,-2.557) (18.2,-2.598) (18.3,-2.6) (18.4,-2.635) (18.5,-2.61) (18.6,-2.627) (18.7,-2.692) (18.8,-2.628) (18.9,-2.681) (19,-2.656) (19.1,-2.721) (19.2,-2.698) (19.3,-2.719) (19.4,-2.68) (19.5,-2.765) (19.6,-2.726) (19.7,-2.767) (19.8,-2.724) (19.9,-2.765) (20,-2.754) (20.1,-2.83) (20.2,-2.746) (20.3,-2.814) (20.4,-2.798) (20.5,-2.79) (20.6,-2.854) (20.7,-2.834) (20.8,-2.802) (20.9,-2.87) (21,-2.835)
(21.1,-2.825) (21.2,-2.92) (21.3,-2.83) (21.4,-2.885) (21.5,-2.865) (21.6,-2.925) (21.7,-2.84) (21.8,-2.915) (21.9,-2.875) (22,-2.955) (22.1,-2.865) (22.2,-2.92) (22.3,-2.91) (22.4,-2.955) (22.5,-2.9) (22.6,-2.915) (22.7,-3.01) (22.8,-2.89) (22.9,-2.965) (23,-2.914) (23.1,-3.003) (23.2,-2.96) (23.3,-2.983) (23.4,-2.916) (23.5,-3.035) (23.6,-2.968) (23.7,-3.021) (23.8,-2.948) (23.9,-3.001) (24,-2.976) (24.1,-3.083) (24.2,-2.95) (24.3,-3.2)};
\legend{10 nm, 20 nm, 40 nm, 100 nm, 200 nm, glass}
\end{axis}

% ---------------- Panel C ----------------
\begin{axis}[matstyle,
  at={(55pt,37.85pt)}, width=243.6pt, height=151.65pt,
  xmin=0, xmax=210, ymin=0, ymax=2.7,
  xtick={0,50,...,200}, ytick={0,0.5,1,1.5,2,2.5},
  yticklabels={0,0.5,1,1.5,2,2.5},
  xlabel={Insulator Thickness (nm)}, ylabel={Lifetime (ns)},
  xlabel style={at={(axis description cs:0.5,-0.1945)}, anchor=center},
  ylabel style={at={(axis description cs:-0.1498,0.5)}, anchor=center},
  legend style={at={(0.4146,0.3637)}, anchor=north west, draw=none, fill=white,
    inner sep=4pt, outer sep=0pt, row sep=4.2pt, column sep=3.5pt,
    font=\fontsize{11.2}{11.2}\selectfont,
    nodes={inner sep=0pt, text height=8pt, text depth=2.3pt, text=black}},
  legend image code/.code={\draw[#1] (0pt,0pt) -- (36.5pt,0pt);},
]
\addplot[draw=none, fill=glasspink, forget plot] coordinates {(0,2.285) (210,2.285) (210,2.455) (0,2.455) (0,2.285)};
\node[font=\bfseries\fontsize{10.5}{10.5}\selectfont, text=black] at (axis cs:109,2.37) {Glass};
\addplot[black, line width=1.2pt, dash pattern=on 9pt off 4.5pt, mark=*, mark size=1.7pt, mark options={solid},
  legend image code/.code={
    \draw[black, line width=1.1pt, solid] (0pt,0pt) -- (36.5pt,0pt);
    \draw[black, line width=1.1pt, solid] (18.25pt,-5.4pt) -- (18.25pt,5.4pt) (14.75pt,5.4pt) -- (21.75pt,5.4pt) (14.75pt,-5.4pt) -- (21.75pt,-5.4pt);
    \fill[black] (18.25pt,0pt) circle (1.8pt);},
  error bars/.cd, y dir=both, y explicit,
  error bar style={solid, line width=1.1pt},
  error mark options={rotate=90, mark size=3.75pt, line width=1.1pt, solid}]
  coordinates {(10,0.602) +- (0,0.015) (20,1.119) +- (0,0.07) (40,1.469) +- (0,0.098) (100,1.938) +- (0,0.116) (200,1.967) +- (0,0.075)};
\addplot[red, line width=1.4pt, line join=round] coordinates {
(1,0.02) (3,0.04) (6.5,0.09) (9,0.15) (12.2,0.25) (14.4,0.36) (16.5,0.49) (18.7,0.66) (20.8,0.845) (23,0.99) (25.1,1.113) (27.3,1.21) (29.5,1.291) (32.3,1.385) (35.2,1.469) (38,1.56) (40.9,1.647) (43.8,1.725) (46.7,1.795) (49.5,1.86) (52.4,1.914) (55.3,1.962) (58.2,2.003) (62,2.045) (66.8,2.077) (72,2.097) (78.3,2.107) (82,2.106) (86.9,2.098) (92,2.085) (98.4,2.068) (105.6,2.052) (113.5,2.033) (120,2.007) (127.9,1.979) (135,1.96) (142.2,1.949) (150,1.944) (156.6,1.943) (164,1.948) (171,1.955) (178,1.961) (185.3,1.967) (194,1.973) (197,1.968) (198.5,1.958) (199.7,1.985) (201,2.02) (202.6,2.033) (204,2.02) (205.5,2.005) (207.6,1.99) (209,2) (210,2.01)};
\addplot[blue, line width=1.4pt, line join=round,
  legend image code/.code={\draw[mblue, line width=1.4pt] (0pt,0pt) -- (36.5pt,0pt);}] coordinates {
(1,0.025) (3,0.05) (6.5,0.12) (9.5,0.22) (12.2,0.342) (14.4,0.46) (16.5,0.608) (18.7,0.77) (20.8,0.935) (23,1.08) (25.1,1.202) (27.3,1.315) (29.5,1.41) (31.6,1.49) (33.8,1.558) (36,1.607) (38.1,1.647) (41,1.68) (43.8,1.706) (47,1.728) (51,1.75) (55,1.77) (59.6,1.789) (64,1.81) (69.7,1.84) (75,1.87) (79.7,1.905) (85,1.945) (89.8,1.988) (94,2.02) (98.4,2.048) (103,2.075) (108,2.097) (113.5,2.116) (119,2.13) (125,2.137) (130,2.133) (136.5,2.116) (143,2.085) (149.4,2.048) (156,2.005) (163.8,1.967) (170,1.935) (178.2,1.908) (185,1.896) (192.5,1.893) (198,1.893) (202.6,1.899) (206,1.915) (210,1.938)};
\legend{Measurement, Model (Vertical), Model (Horizontal)}
\end{axis}

% panel letters and title
\node[font=\bfseries\fontsize{18}{18}\selectfont] at (39pt,583pt) {A};
\node[font=\bfseries\fontsize{18}{18}\selectfont] at (39.5pt,391.5pt) {B};
\node[font=\bfseries\fontsize{18}{18}\selectfont] at (39pt,209.5pt) {C};
\node[font=\bfseries\fontsize{13.2}{13.2}\selectfont] at (168.5pt,373.25pt) {VF2.0.Cl};
\end{tikzpicture}
\end{document}
